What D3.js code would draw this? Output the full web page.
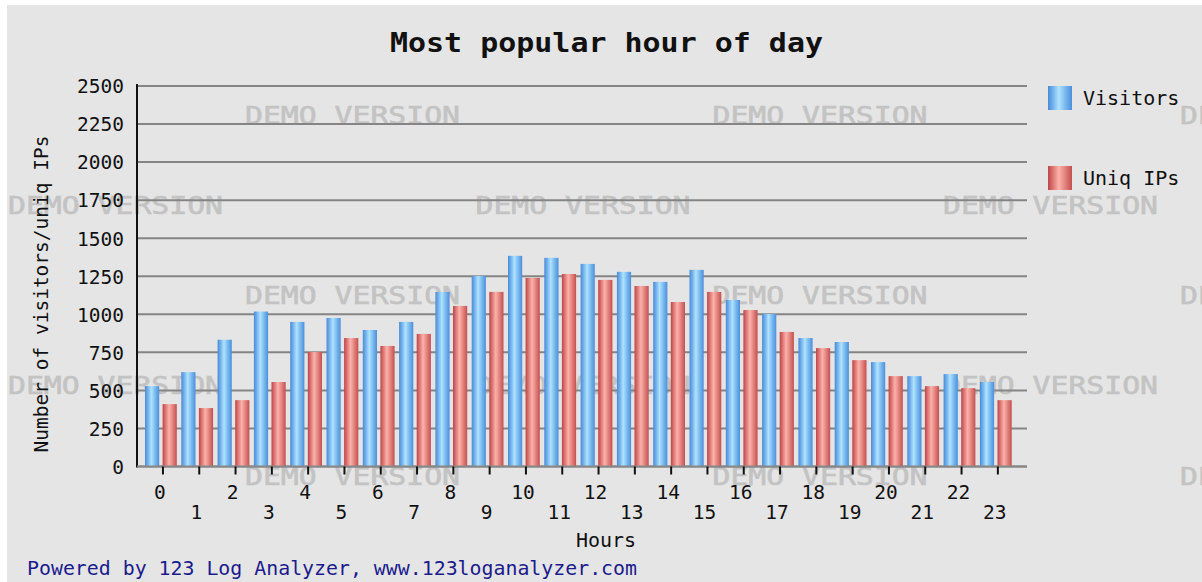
<!DOCTYPE html>
<html>
<head>
<meta charset="utf-8">
<script src="https://cdn.jsdelivr.net/npm/d3@7"></script>
<style>
html,body{margin:0;padding:0;background:#fff;}
svg{display:block;}
text{font-family:"DejaVu Sans Mono",monospace;}
</style>
</head>
<body>
<svg id="chart" width="1202" height="582"></svg>
<script>
const hours = ["0","1","2","3","4","5","6","7","8","9","10","11","12","13","14","15","16","17","18","19","20","21","22","23"];
const visitors = [528, 620, 833, 1018, 950, 976, 897, 950, 1147, 1252, 1384, 1371, 1331, 1279, 1213, 1292, 1094, 1002, 844, 818, 686, 594, 607, 555];
const uniqIPs = [410, 384, 436, 555, 752, 844, 792, 871, 1055, 1147, 1239, 1265, 1226, 1186, 1081, 1147, 1028, 884, 778, 699, 594, 528, 515, 436];
const seriesNames = ["Visitors", "Uniq IPs"];
const yTicks = [0, 250, 500, 750, 1000, 1250, 1500, 1750, 2000, 2250, 2500];
const titleText = "Most popular hour of day";
const yTitle = "Number of visitors/uniq IPs";
const xTitle = "Hours";
const footer = "Powered by 123 Log Analyzer, www.123loganalyzer.com";
const watermark = "DEMO VERSION";

const svg = d3.select("#chart");
const defs = svg.append("defs");
function grad(id, stops){
  const g = defs.append("linearGradient").attr("id", id).attr("x1","0%").attr("x2","100%").attr("y1","0%").attr("y2","0%");
  stops.forEach(s => g.append("stop").attr("offset", s[0]).attr("stop-color", s[1]));
}
grad("gBlue", [["0%","#4a8ad6"],["20%","#70b0ec"],["45%","#b0e2ff"],["70%","#7cbcf0"],["100%","#4d8fda"]]);
grad("gRed", [["0%","#bf4447"],["20%","#dc7472"],["45%","#fbb2aa"],["70%","#e48580"],["100%","#c4504f"]]);

// background
svg.append("rect").attr("x",0).attr("y",0).attr("width",1202).attr("height",582).attr("fill","#fff");
svg.append("rect").attr("x",7).attr("y",5).attr("width",1195).attr("height",577).attr("fill","#e5e5e5");

// watermark layer
const wm = svg.append("g");
for (let i = 0; i < 5; i++) {
  const yb = 123.5 + i * 90.3;
  const x0 = (i % 2 === 0) ? 245 : 8;
  for (let j = 0; j < 3; j++) {
    wm.append("text").attr("x", x0 + j * 467.5).attr("y", yb)
      .attr("font-size", 24).attr("fill", "#c3c3c3")
      .attr("stroke", "#c3c3c3").attr("stroke-width", 0.6)
      .attr("textLength", 215).attr("lengthAdjust","spacingAndGlyphs")
      .text(watermark);
  }
}

const plotL = 137, plotR = 1027, y0 = 466.5, yTop = 86;
const x = d3.scaleBand().domain(hours).range([142.8, 142.8 + 24 * 36.3]).padding(0);
const xs = d3.scaleBand().domain(seriesNames).range([2.2, 34]).paddingInner(0.193).paddingOuter(0);
const y = d3.scaleLinear().domain([0, 2500]).range([y0, yTop]);

// gridlines
svg.append("g").selectAll("line").data(yTicks).join("line")
  .attr("x1", plotL).attr("x2", plotR)
  .attr("y1", d => y(d)).attr("y2", d => y(d))
  .attr("stroke", "#858585").attr("stroke-width", 2);

// y axis labels
const yAxis = d3.axisLeft(y).tickValues(yTicks).tickSize(0).tickPadding(0).tickFormat(d3.format("d"));
const ga = svg.append("g").attr("transform", "translate(124,0)").call(yAxis);
ga.select(".domain").remove();
ga.selectAll("text").attr("font-family","DejaVu Sans Mono, monospace").attr("font-size", 19.5).attr("fill","#111").attr("dy","0.35em");

// bars
const groups = svg.append("g").selectAll("g").data(hours).join("g")
  .attr("transform", d => `translate(${x(d)},0)`);
groups.append("rect")
  .attr("x", xs("Visitors")).attr("width", xs.bandwidth())
  .attr("y", (d, i) => y(visitors[i])).attr("height", (d, i) => y0 - y(visitors[i]))
  .attr("fill", "url(#gBlue)");
groups.append("rect")
  .attr("x", xs("Uniq IPs")).attr("width", xs.bandwidth())
  .attr("y", (d, i) => y(uniqIPs[i])).attr("height", (d, i) => y0 - y(uniqIPs[i]))
  .attr("fill", "url(#gRed)");

// axes lines
svg.append("line").attr("x1", plotL).attr("x2", plotL).attr("y1", 84).attr("y2", y0 + 1).attr("stroke", "#111").attr("stroke-width", 2);
svg.append("line").attr("x1", plotL).attr("x2", plotR).attr("y1", y0).attr("y2", y0).attr("stroke", "#888").attr("stroke-width", 2);

// x ticks and labels
const cx = d => x(d) + x.bandwidth() / 2;
svg.append("g").selectAll("line").data(hours).join("line")
  .attr("x1", d => cx(d) + 2).attr("x2", d => cx(d) + 2)
  .attr("y1", y0).attr("y2", y0 + 8).attr("stroke", "#111").attr("stroke-width", 2);
svg.append("g").selectAll("text").data(hours).join("text")
  .attr("x", d => cx(d) - 1)
  .attr("y", (d, i) => i % 2 === 0 ? 499 : 519)
  .attr("text-anchor", "middle").attr("font-size", 19.5).attr("fill", "#111")
  .text(d => d);

// titles
svg.append("text").attr("x", 390).attr("y", 51.5).attr("font-size", 27).attr("font-weight", "bold")
  .attr("fill", "#111").attr("textLength", 433).attr("lengthAdjust", "spacingAndGlyphs").text(titleText);
svg.append("text").attr("transform", "translate(48,294) rotate(-90)").attr("text-anchor", "middle")
  .attr("font-size", 19.5).attr("fill", "#111").text(yTitle);
svg.append("text").attr("x", 606).attr("y", 547).attr("text-anchor", "middle")
  .attr("font-size", 20).attr("fill", "#111").text(xTitle);
svg.append("text").attr("x", 27).attr("y", 575).attr("font-size", 20).attr("fill", "#1b1b8e")
  .attr("textLength", 610).attr("lengthAdjust", "spacingAndGlyphs").text(footer);

// legend
const leg = svg.append("g").selectAll("g").data(seriesNames).join("g")
  .attr("transform", (d, i) => `translate(1048,${86 + i * 80})`);
leg.append("rect").attr("width", 24).attr("height", 24).attr("fill", (d, i) => i === 0 ? "url(#gBlue)" : "url(#gRed)");
leg.append("text").attr("x", 35).attr("y", 19).attr("font-size", 20).attr("fill", "#111").text(d => d);
</script>
</body>
</html>
